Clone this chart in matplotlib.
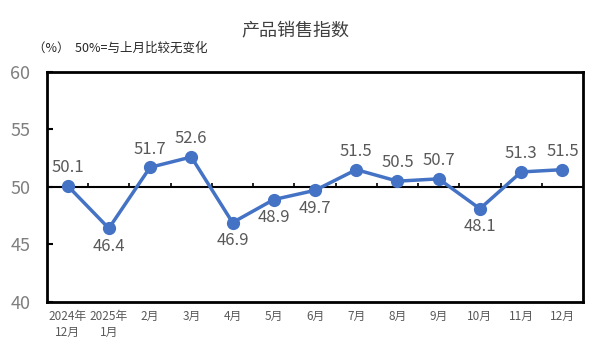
import matplotlib
matplotlib.use("Agg")
import matplotlib.pyplot as plt
import numpy as np

plt.rcParams['font.family'] = ['Noto Sans CJK SC', 'DejaVu Sans']

categories = ["2024年\n12月", "2025年\n1月", "2月", "3月", "4月", "5月", "6月",
              "7月", "8月", "9月", "10月", "11月", "12月"]
values = [50.1, 46.4, 51.7, 52.6, 46.9, 48.9, 49.7, 51.5, 50.5, 50.7, 48.1, 51.3, 51.5]
label_pos = ["above", "below", "above", "above", "below", "below", "below",
             "above", "above", "above", "below", "above", "above"]
yticks = [40, 45, 50, 55, 60]

fig = plt.figure(figsize=(5.91, 3.54), dpi=100)
ax = fig.add_axes([0.0795, 0.147, 0.907, 0.650])
x = np.arange(len(values))
ax.axhline(50, color="black", lw=1.5, zorder=1)
# small category-boundary ticks on the 50 line
bounds = x[:-1] + 0.5
ax.vlines(bounds, 50, 50.3, color="black", lw=1.2, zorder=1)
ax.plot(x, values, color="#4472C4", lw=2.5, marker="o", markersize=8.5, zorder=3)
for xi, v, p in zip(x, values, label_pos):
    if p == "above":
        ax.annotate(f"{v}", (xi, v), xytext=(0, 7), textcoords="offset points",
                    ha="center", va="bottom", fontsize=12, color="#595959")
    else:
        ax.annotate(f"{v}", (xi, v), xytext=(0, -7), textcoords="offset points",
                    ha="center", va="top", fontsize=12, color="#595959")
ax.set_xlim(-0.5, len(values) - 0.5)
ax.set_ylim(40, 60)
ax.set_yticks(yticks)
ax.set_yticklabels([str(t) for t in yticks], fontsize=13, color="#7f7f7f")
ax.set_xticks(x)
ax.set_xticklabels(categories, fontsize=8.5, color="#595959", linespacing=1.3)
ax.tick_params(axis="x", length=0, pad=6)
ax.tick_params(axis="y", direction="in", length=4, width=1.5, pad=12)
for s in ax.spines.values():
    s.set_linewidth(2)
    s.set_color("black")
fig.text(0.5, 0.915, "产品销售指数", ha="center", va="center", fontsize=13, color="#404040")
fig.text(0.055, 0.865, "（%）  50%=与上月比较无变化", ha="left", va="center", fontsize=9, color="#262626")
fig.savefig("out.png", dpi=100)
